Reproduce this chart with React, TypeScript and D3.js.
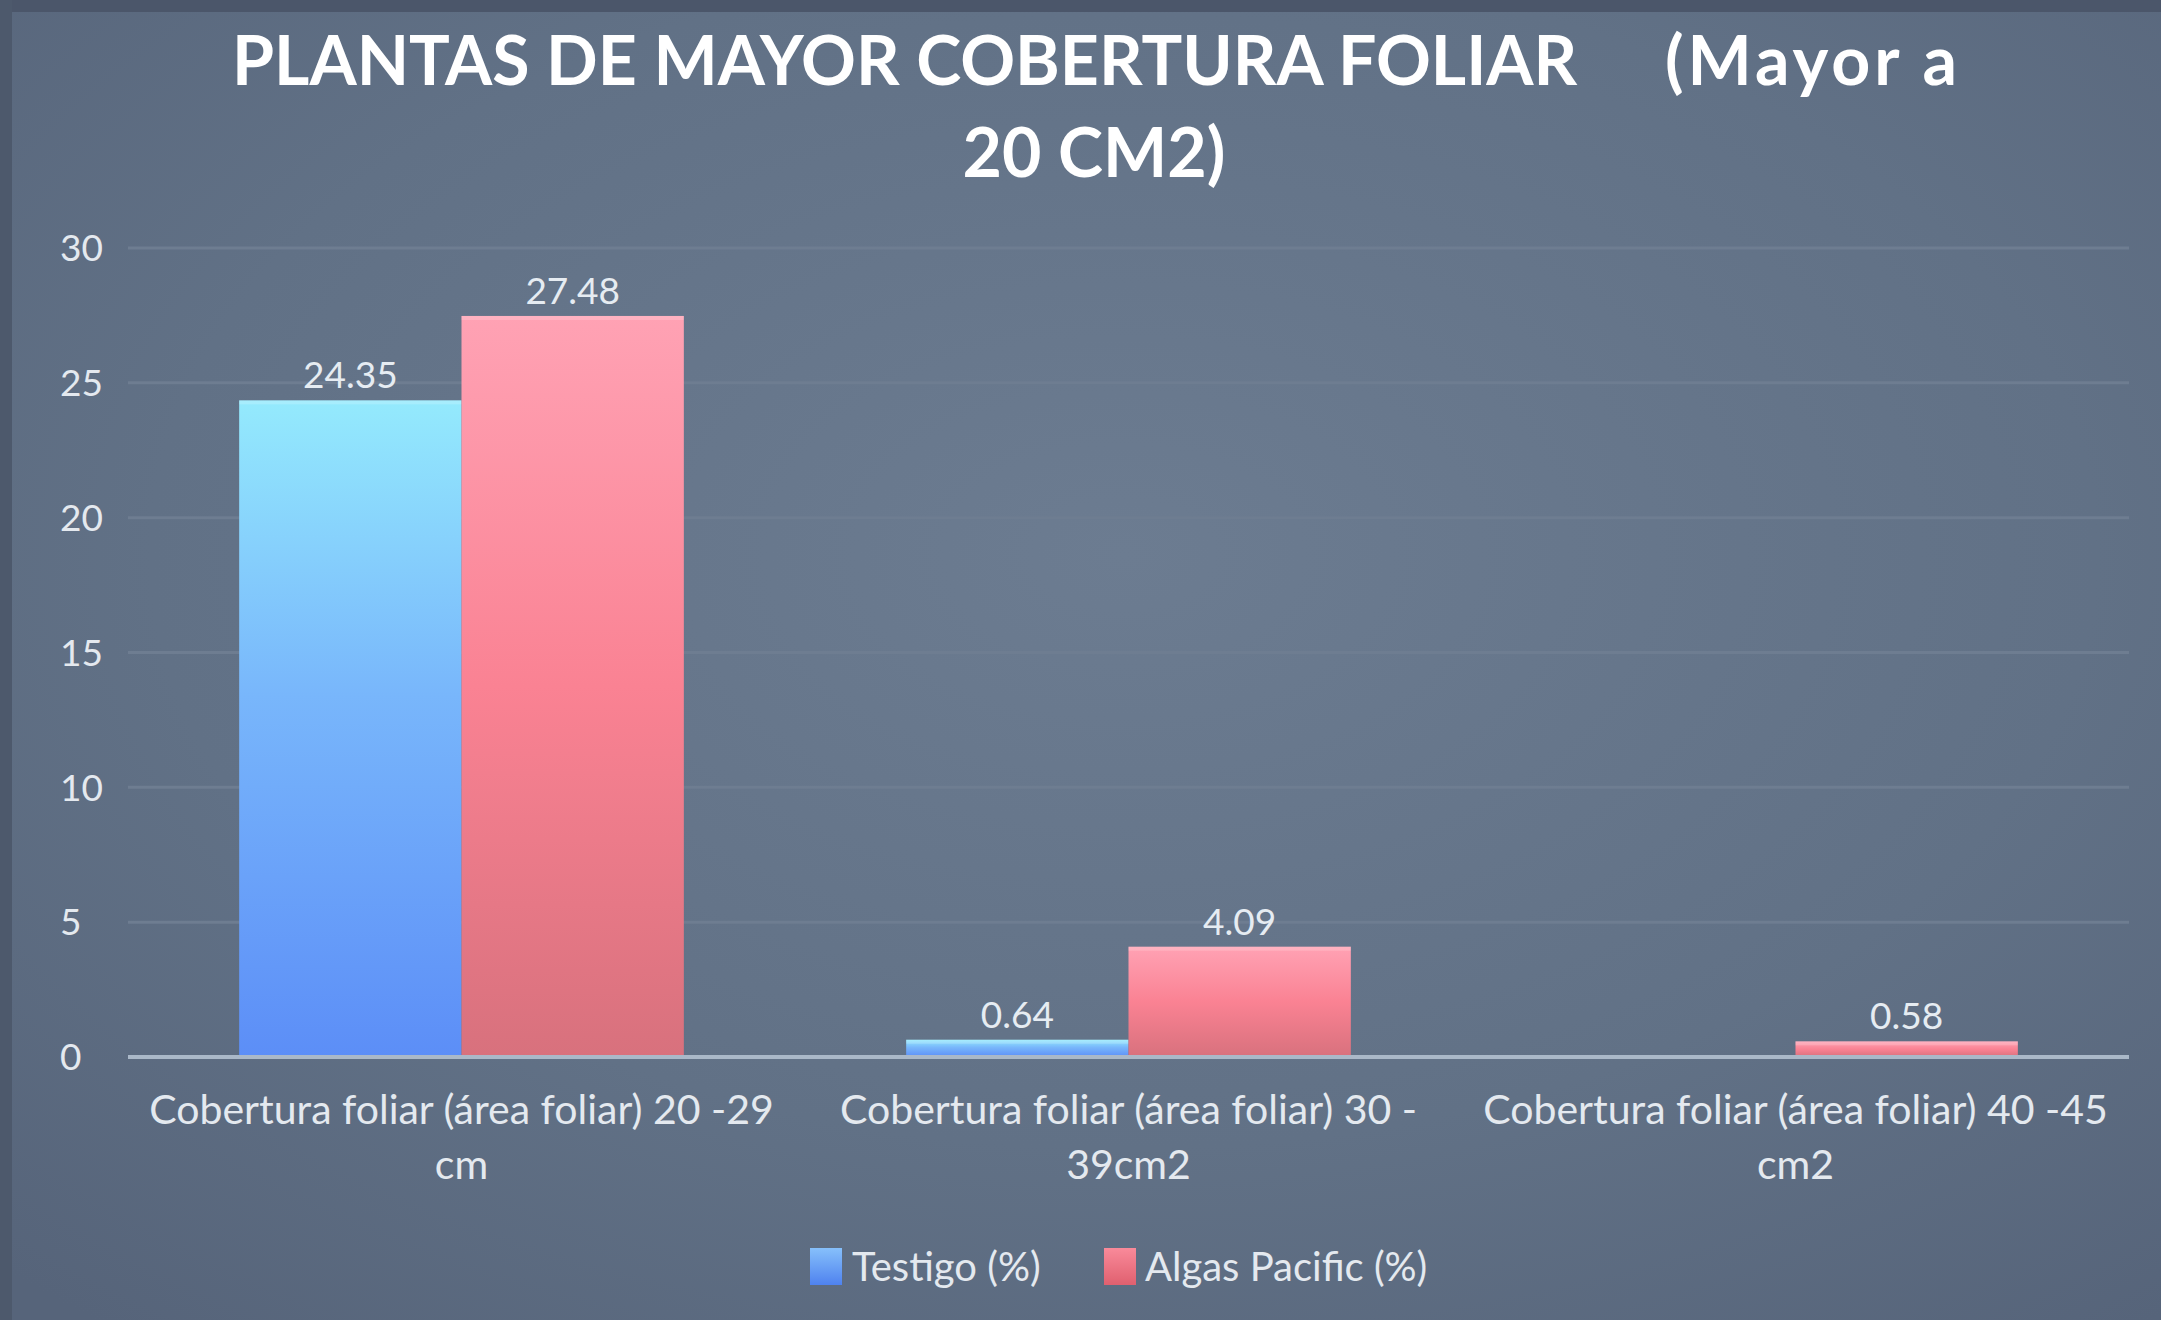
import React from "react";
import * as d3 from "d3";

const CATEGORIES = [
  "Cobertura foliar (área foliar) 20 -29 cm",
  "Cobertura foliar (área foliar) 30 - 39cm2",
  "Cobertura foliar (área foliar) 40 -45 cm2",
];
const CATEGORY_LINES = [
  ["Cobertura foliar (área foliar) 20 -29", "cm"],
  ["Cobertura foliar (área foliar) 30 -", "39cm2"],
  ["Cobertura foliar (área foliar) 40 -45", "cm2"],
];
const SERIES = ["Testigo (%)", "Algas Pacific (%)"];
const TESTIGO: (number | null)[] = [24.35, 0.64, null];
const ALGAS: (number | null)[] = [27.48, 4.09, 0.58];
const Y_TICKS = [0, 5, 10, 15, 20, 25, 30];
const TITLE_LINE1_A = "PLANTAS DE MAYOR COBERTURA FOLIAR";
const TITLE_LINE1_B = "(Mayor a";
const TITLE_LINE2 = "20 CM2)";

const W = 2161;
const H = 1320;
const FONT = "Lato, 'Open Sans', sans-serif";

export default function App() {
  const x0 = d3.scaleBand<string>().domain(CATEGORIES).range([128, 2129]).padding(0);
  const x1 = d3
    .scaleBand<string>()
    .domain(SERIES)
    .range([0, x0.bandwidth()])
    .paddingInner(0)
    .paddingOuter(0.5);
  const y = d3.scaleLinear().domain([0, 30]).range([1057, 248]);
  const seriesData = [TESTIGO, ALGAS];
  const fills = ["url(#gBlue)", "url(#gRed)"];
  const legendFills = ["url(#lBlue)", "url(#lRed)"];

  return (
    <svg
      width={W}
      height={H}
      style={{ position: "absolute", left: 0, top: 0, display: "block" }}
      fontFamily={FONT}
    >
      <defs>
        <radialGradient id="bg" cx="0.52" cy="0.42" r="0.75">
          <stop offset="0" stopColor="#6c7c91" />
          <stop offset="0.6" stopColor="#617186" />
          <stop offset="1" stopColor="#56647a" />
        </radialGradient>
        <linearGradient id="gBlue" x1="0" y1="0" x2="0" y2="1">
          <stop offset="0" stopColor="#94eafd" />
          <stop offset="0.45" stopColor="#78b6fb" />
          <stop offset="1" stopColor="#5c8ef7" />
        </linearGradient>
        <linearGradient id="gRed" x1="0" y1="0" x2="0" y2="1">
          <stop offset="0" stopColor="#ffa2b4" />
          <stop offset="0.5" stopColor="#fa8293" />
          <stop offset="1" stopColor="#d8717d" />
        </linearGradient>
        <linearGradient id="lBlue" x1="0" y1="0" x2="0" y2="1">
          <stop offset="0" stopColor="#86c0fb" />
          <stop offset="1" stopColor="#4f82ef" />
        </linearGradient>
        <linearGradient id="lRed" x1="0" y1="0" x2="0" y2="1">
          <stop offset="0" stopColor="#f98a9a" />
          <stop offset="1" stopColor="#e0606f" />
        </linearGradient>
      </defs>
      <rect x={0} y={0} width={W} height={H} fill="url(#bg)" />
      <rect x={0} y={0} width={W} height={12} fill="#4b566a" />
      <rect x={0} y={0} width={12} height={H} fill="#4d596c" />

      {/* title */}
      <g fill="#ffffff" fontWeight={700} fontSize={68}>
        <text x={232} y={85} textAnchor="start">{TITLE_LINE1_A}</text>
        <text x={1665} y={85} textAnchor="start" textLength={292} lengthAdjust="spacing">{TITLE_LINE1_B}</text>
        <text x={1094} y={177} textAnchor="middle">{TITLE_LINE2}</text>
      </g>

      {/* gridlines */}
      {Y_TICKS.filter((t) => t !== 0).map((t) => (
        <line key={t} x1={128} x2={2129} y1={y(t)} y2={y(t)} stroke="#6e7d91" strokeWidth={3} />
      ))}

      {/* y tick labels */}
      {Y_TICKS.map((t) => (
        <text key={t} x={60} y={y(t)} dy="0.36em" fontSize={37} fill="#e4e9ef">
          {t}
        </text>
      ))}

      {/* bars */}
      {CATEGORIES.map((c, ci) => (
        <g key={c} transform={`translate(${x0(c)},0)`}>
          {SERIES.map((s, si) => {
            const v = seriesData[si][ci];
            if (v == null) return null;
            const bx = x1(s)!;
            const bw = x1.bandwidth();
            return (
              <g key={s}>
                <rect x={bx} y={y(v)} width={bw} height={y(0) - y(v)} fill={fills[si]} />
                <rect x={bx} y={y(v)} width={bw} height={Math.min(4, y(0) - y(v))} fill="#ffffff" opacity={0.18} />
                <text
                  x={bx + bw / 2}
                  y={y(v) - 12}
                  textAnchor="middle"
                  fontSize={37}
                  fill="#e6ecf2"
                >
                  {v.toFixed(2)}
                </text>
              </g>
            );
          })}
        </g>
      ))}

      {/* axis line */}
      <line x1={128} x2={2129} y1={y(0)} y2={y(0)} stroke="#aab8c8" strokeWidth={4} />

      {/* category labels */}
      {CATEGORIES.map((c, ci) => (
        <text key={c} textAnchor="middle" fontSize={41} fill="#e4e9ef">
          {CATEGORY_LINES[ci].map((ln, li) => (
            <tspan key={li} x={x0(c)! + x0.bandwidth() / 2} y={1124 + li * 55}>
              {ln}
            </tspan>
          ))}
        </text>
      ))}

      {/* legend */}
      <g>
        <rect x={810} y={1248} width={32} height={37} fill={legendFills[0]} />
        <text x={852} y={1281} fontSize={40} fill="#e4e9ef">{SERIES[0]}</text>
        <rect x={1104} y={1248} width={32} height={37} fill={legendFills[1]} />
        <text x={1145} y={1281} fontSize={40} fill="#e4e9ef">{SERIES[1]}</text>
      </g>
    </svg>
  );
}
